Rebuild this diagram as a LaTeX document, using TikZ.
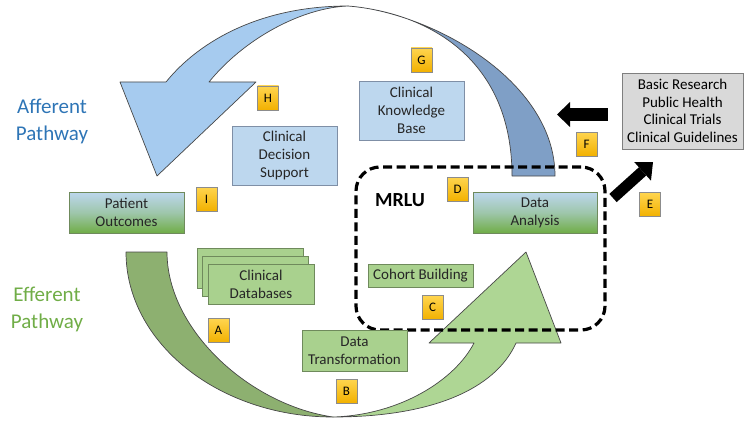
\documentclass[tikz,border=0pt]{standalone}
\usepackage{fontspec}
\setmainfont{Carlito}
\usepackage{tikz}
\usetikzlibrary{positioning,arrows.meta}
\definecolor{inkdark}{HTML}{262626}
\definecolor{edgegrey}{HTML}{7F7F7F}
\definecolor{skyfill}{HTML}{BDD7EE}
\definecolor{skyedge}{HTML}{7F8FA6}
\definecolor{leaffill}{HTML}{A9D18E}
\definecolor{leafedge}{HTML}{6F8A5C}
\definecolor{leafdeep}{HTML}{70AD47}
\definecolor{arcsky}{HTML}{A6CBEF}
\definecolor{arcsteel}{HTML}{7F9FC6}
\definecolor{arcleaf}{HTML}{AED694}
\definecolor{arcmoss}{HTML}{8DB070}
\definecolor{tagtop}{HTML}{FFD54F}
\definecolor{tagbot}{HTML}{F2B100}
\definecolor{afferent}{HTML}{2E75B6}
\definecolor{efferent}{HTML}{70AD47}
\definecolor{srcgrey}{HTML}{D9D9D9}
\tikzset{
  lc/.style={align=center, inner sep=0pt, text=inkdark, font=\fontsize{15}{18}\selectfont, line width=0.8pt},
  lc sky/.style={lc, draw=skyedge, fill=skyfill, minimum width=105pt, minimum height=59pt},
  lc leaf/.style={lc, draw=leafedge, fill=leaffill, minimum width=105pt, minimum height=41pt},
  lc grad/.style={lc, draw=leafedge, top color=skyfill, bottom color=leafdeep, middle color=skyfill!60!leafdeep, minimum height=41pt},
  lc src/.style={lc, draw=edgegrey, fill=srcgrey, text=black, font=\fontsize{15}{17.6}\selectfont},
  lc tag/.style={lc, draw=black!45, top color=tagtop, bottom color=tagbot, text=black,
                 minimum width=21pt, minimum height=24pt, font=\fontsize{13}{15}\selectfont},
  lc way/.style={lc, font=\fontsize{21}{27}\selectfont},
  lc frame/.style={draw=black, line width=3.2pt, dash pattern=on 9pt off 4.5pt, rounded corners=24pt, inner sep=0pt},
  lc arc/.style={draw=inkdark!85, line width=0.7pt, line join=round},
  lc big/.style={black, line width=13pt, -{Triangle[length=13pt, width=25pt, line width=0pt]}},
}
\begin{document}
\begin{tikzpicture}[x=1pt, y=-1pt]
  \useasboundingbox (0,0) rectangle (751,425);
  % afferent arc: steel back from the analysis box, sky front down to the outcomes
  \draw[lc arc, fill=arcsky] (348,6) .. controls (262,6) and (200,40) .. (166,82) -- (120,82) -- (157,176)
     -- (256,82) -- (209,82) .. controls (243,40) and (300,8) .. cycle;
  \draw[lc arc, fill=arcsteel] (348,6) .. controls (430,12) and (555,80) .. (555,176) -- (512,176)
     .. controls (512,60) and (430,13) .. cycle;
  % efferent arc: moss back from the outcomes, leaf front up into the MRLU
  \draw[lc arc, fill=arcmoss] (126,252) .. controls (126,343) and (219,417) .. (333,417)
     .. controls (250,405) and (167,330) .. (167,252) -- cycle;
  \draw[lc arc, fill=arcleaf] (333,417) .. controls (430,417) and (495,390) .. (516,343) -- (561,343) -- (526,252)
     -- (429,343) -- (474,343) .. controls (455,380) and (400,415) .. cycle;
  % the MRLU
  \node[lc frame, minimum width=249pt, minimum height=163pt] (mrlu) at (480.5,248.5) {};
  \node[lc, font=\bfseries\fontsize{20}{24}\selectfont, text=black] (mrlutxt) at (400,200) {MRLU};
  % boxes
  \node[lc sky] (cds) at (284.5,155.5) {Clinical\\Decision\\Support};
  \node[lc sky] (ckb) at (411.5,110.5) {Clinical\\Knowledge\\Base};
  \node[lc grad, minimum width=115pt] (pat) at (126.5,212.5) {Patient\\Outcomes};
  \node[lc grad, minimum width=124pt] (ana) at (535,212.5) {Data\\Analysis};
  \node[lc leaf, minimum height=23pt] (coh) at (420.5,275.5) {Cohort Building};
  \node[lc leaf] (trf) at (354.5,350.5) {Data\\Transformation};
  \foreach \d in {2,1} \node[lc leaf, minimum width=106pt, minimum height=40pt] (db\d) at ({261-5.5*\d},{284-8*\d}) {};
  \node[lc leaf, minimum width=106pt, minimum height=40pt] (db) at (261,284) {Clinical\\Databases};
  \node[lc src, minimum width=121pt, minimum height=76pt] (res) at (682.5,111) {Basic Research\\Public Health\\Clinical Trials\\Clinical Guidelines};
  % pathway names
  \node[lc way, text=afferent] (aff) at (52,121) {Afferent\\Pathway};
  \node[lc way, text=efferent] (eff) at (47,309) {Efferent\\Pathway};
  % outside research in and out
  \coordinate (ftip) at (557,114.5);
  \coordinate (etail) at (613,198);
  \coordinate (etip) at (653,162);
  \draw[lc big] ([xshift=-14pt, yshift=-3.5pt]res.west) -- (ftip);
  \draw[lc big, line width=11pt, -{Triangle[length=14pt, width=25pt, line width=0pt]}] (etail) -- (etip);
  % step tags
  \foreach \t/\x/\y in {A/218.5/330.5, B/346.5/391, C/432.5/307.5, D/457.5/189, E/650/204.5,
                        F/586.5/144, G/421.5/60, H/268/98, I/206.5/199}
    \node[lc tag] (tag\t) at (\x,\y) {\t};
\end{tikzpicture}
\end{document}
